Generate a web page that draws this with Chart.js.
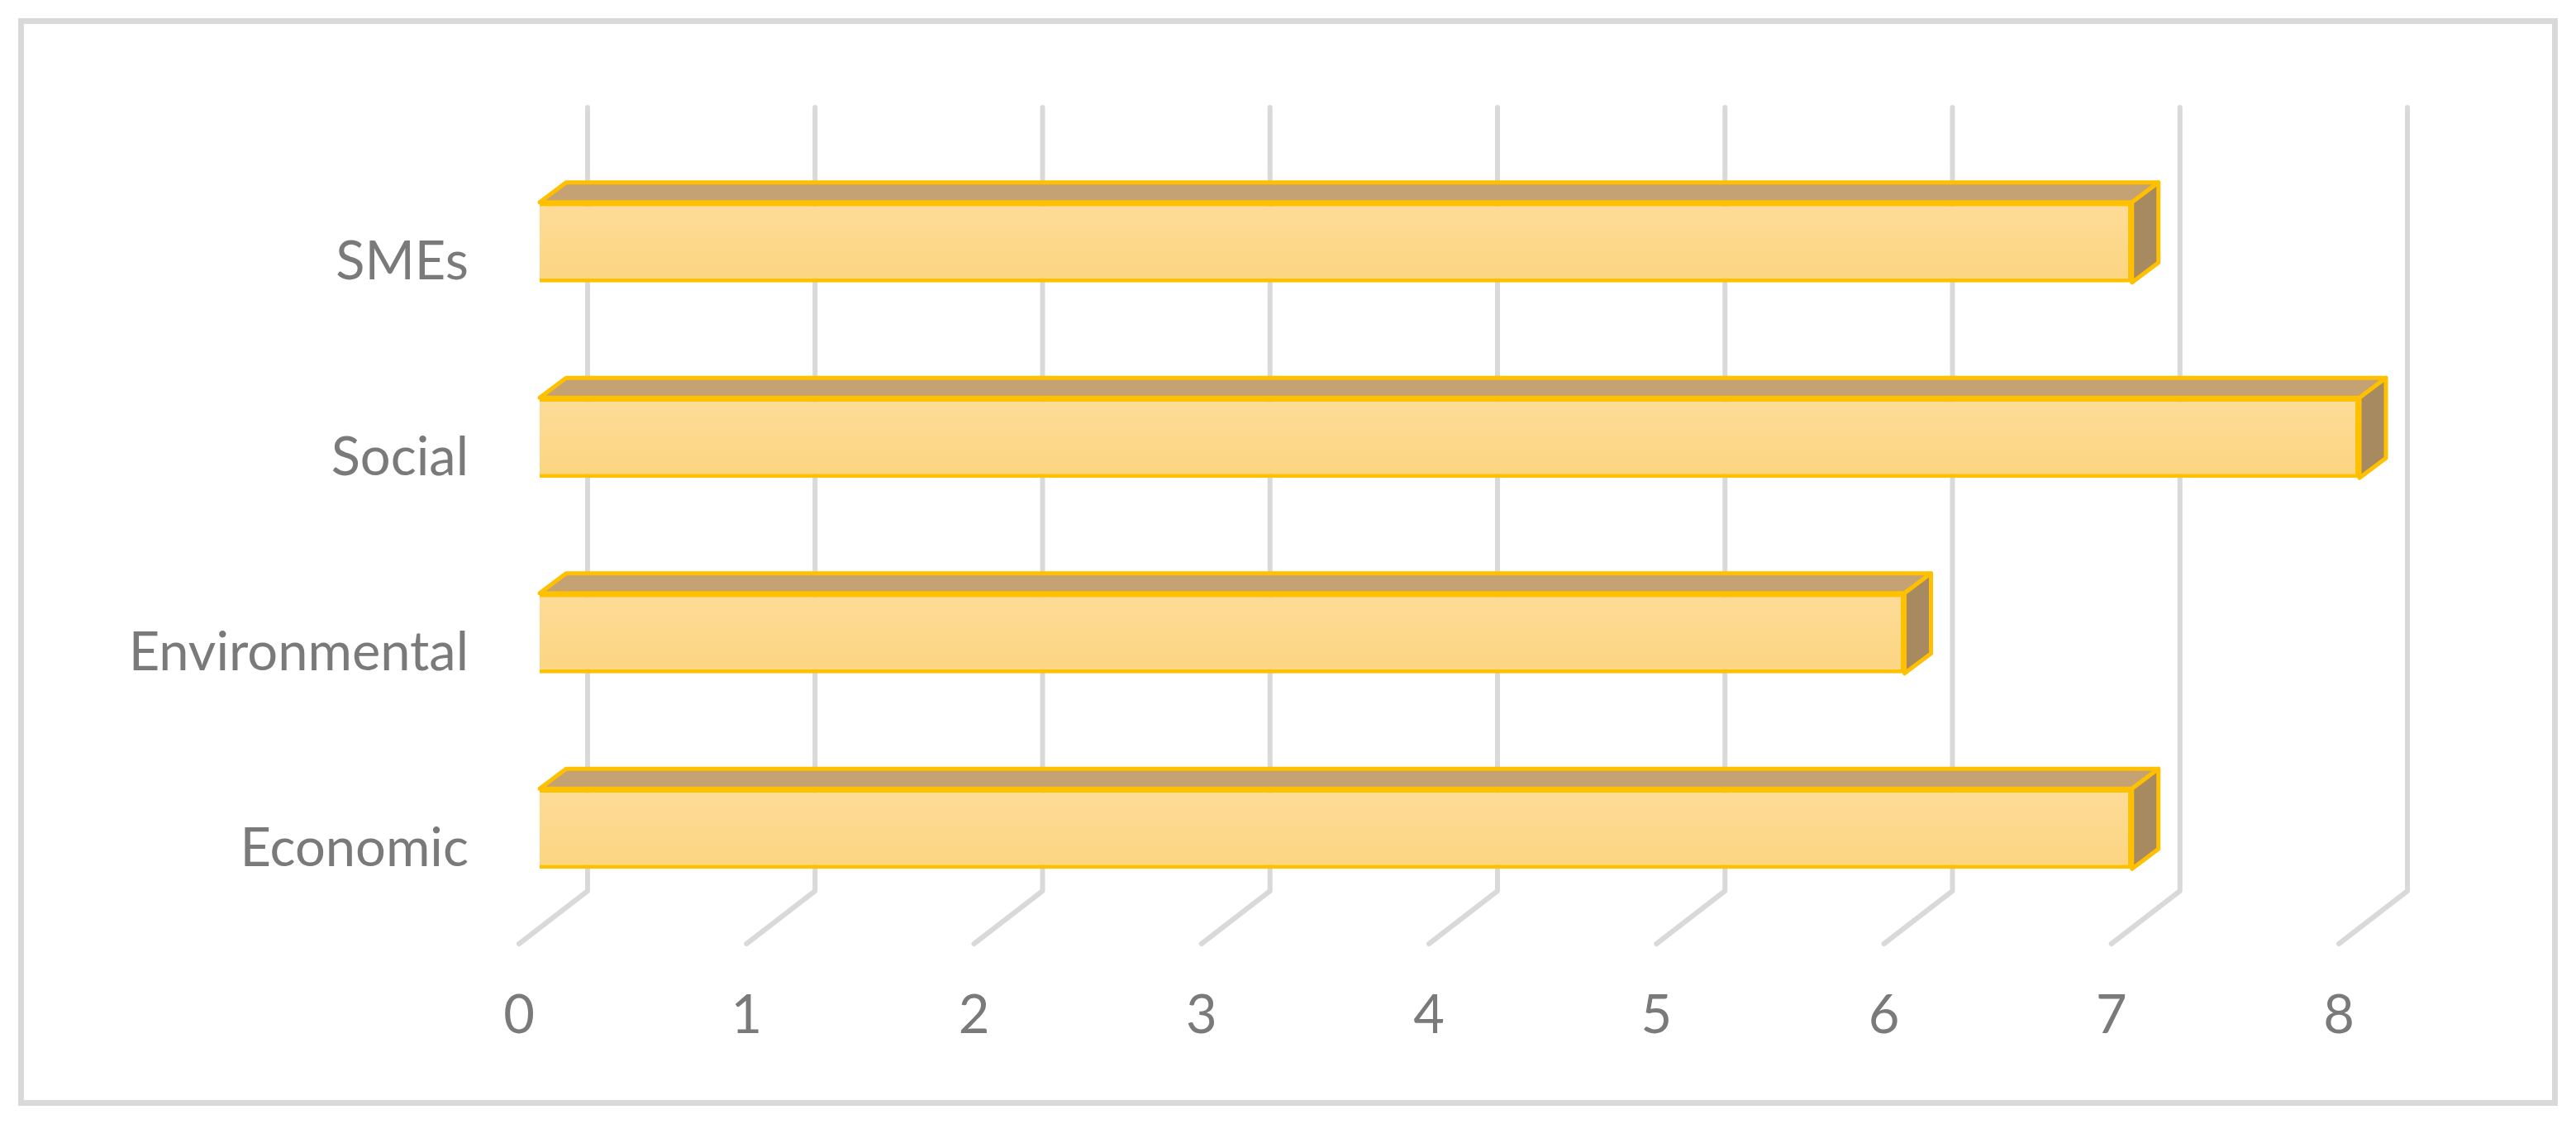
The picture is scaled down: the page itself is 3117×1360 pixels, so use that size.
<!DOCTYPE html>
<html>
<head>
<meta charset="utf-8">
<script src="https://cdn.jsdelivr.net/npm/chart.js@4"></script>
<style>
  html, body { margin: 0; padding: 0; background: #ffffff; }
  #wrap { width: 3117px; height: 1360px; }
</style>
</head>
<body>
<div id="wrap"><canvas id="c" width="3117" height="1360"></canvas></div>
<script>
// ---- data ----
const categories = ['Economic', 'Environmental', 'Social', 'SMEs'];
const values = [7, 6, 8, 7];
const xTickMin = 0;
const xTickMax = 8;

// ---- styles ----
const TEXT = '#7a7a7a';
const GRID = '#d9d9d9';
const GOLD = '#FFC000';
const TOP_FACE = '#C4A274';
const SIDE_FACE = '#A88A60';
const FONT = { family: 'Lato, "Open Sans", sans-serif', size: 65 };
const DEPTH_X = 32, DEPTH_Y = -24;       // bar depth
const WALL_X = 58, FLOOR_X = -25;         // back wall / front floor offsets
const WALL_TOP = -45, WALL_BOTTOM = -43, FLOOR_Y = 21;

const threeD = {
  id: 'threeD',
  beforeDraw(chart) {
    const ctx = chart.ctx;
    ctx.save();
    ctx.strokeStyle = GRID;
    ctx.lineWidth = 7;
    ctx.strokeRect(25.5, 25.5, chart.width - 51, chart.height - 51);
    ctx.restore();
  },
  beforeDatasetsDraw(chart) {
    const ctx = chart.ctx;
    const xs = chart.scales.x;
    const area = chart.chartArea;
    ctx.save();
    // back wall gridlines with floor feet
    ctx.strokeStyle = GRID;
    ctx.lineWidth = 6;
    ctx.lineJoin = 'round';
    ctx.lineCap = 'round';
    for (let v = xTickMin; v <= xTickMax; v++) {
      const px = xs.getPixelForValue(v);
      ctx.beginPath();
      ctx.moveTo(px + WALL_X, area.top + WALL_TOP);
      ctx.lineTo(px + WALL_X, area.bottom + WALL_BOTTOM);
      ctx.lineTo(px + FLOOR_X, area.bottom + FLOOR_Y);
      ctx.stroke();
    }
    // top and side faces of bars
    const meta = chart.getDatasetMeta(0);
    ctx.lineWidth = 5;
    ctx.strokeStyle = GOLD;
    meta.data.forEach(el => {
      const p = el.getProps(['x', 'y', 'base', 'height'], true);
      const x0 = p.base, x1 = p.x;
      const yT = p.y - p.height / 2, yB = p.y + p.height / 2;
      // top face
      ctx.beginPath();
      ctx.moveTo(x0, yT);
      ctx.lineTo(x0 + DEPTH_X, yT + DEPTH_Y);
      ctx.lineTo(x1 + DEPTH_X, yT + DEPTH_Y);
      ctx.lineTo(x1, yT);
      ctx.closePath();
      ctx.fillStyle = TOP_FACE;
      ctx.fill();
      ctx.stroke();
      // side face
      ctx.beginPath();
      ctx.moveTo(x1, yT);
      ctx.lineTo(x1 + DEPTH_X, yT + DEPTH_Y);
      ctx.lineTo(x1 + DEPTH_X, yB + DEPTH_Y);
      ctx.lineTo(x1, yB);
      ctx.closePath();
      ctx.fillStyle = SIDE_FACE;
      ctx.fill();
      ctx.stroke();
    });
    ctx.restore();
  }
};

function frontFill(c) {
  const ch = c.chart;
  const ys = ch.scales && ch.scales.y;
  if (!ys || !ch.chartArea) return '#FDD98C';
  const yc = ys.getPixelForValue(c.dataIndex);
  const g = ch.ctx.createLinearGradient(0, yc - 48, 0, yc + 48);
  g.addColorStop(0, '#FDDC98');
  g.addColorStop(1, '#FCD580');
  return g;
}

new Chart(document.getElementById('c'), {
  type: 'bar',
  data: {
    labels: categories,
    datasets: [{
      data: values,
      backgroundColor: frontFill,
      borderColor: GOLD,
      borderWidth: 5,
      categoryPercentage: 1,
      barPercentage: 0.41
    }]
  },
  options: {
    indexAxis: 'y',
    responsive: false,
    devicePixelRatio: 1,
    animation: false,
    events: [],
    layout: { padding: { left: 0, top: 175, right: 262, bottom: 89 } },
    plugins: { legend: { display: false }, tooltip: { enabled: false }, title: { display: false } },
    scales: {
      x: {
        type: 'linear',
        min: xTickMin,
        max: xTickMax,
        grid: { display: false, drawTicks: false },
        border: { display: false },
        ticks: { stepSize: 1, color: TEXT, font: FONT, padding: 69, labelOffset: FLOOR_X, maxRotation: 0 },
        afterFit(s) { s.height = 150; }
      },
      y: {
        type: 'category',
        reverse: true,
        grid: { display: false, drawTicks: false },
        border: { display: false },
        ticks: { color: TEXT, font: FONT, padding: 86, labelOffset: 24 },
        afterFit(s) { s.width = 653; }
      }
    }
  },
  plugins: [threeD]
});
</script>
</body>
</html>
